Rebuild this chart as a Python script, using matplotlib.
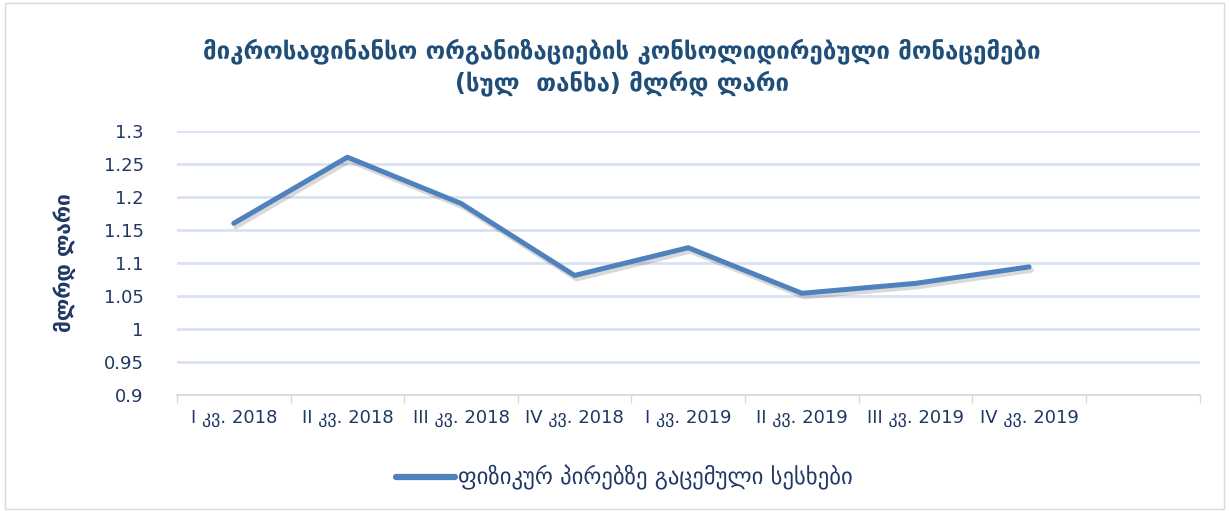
import matplotlib
matplotlib.use('Agg')
import matplotlib.pyplot as plt
import matplotlib.patheffects as pe
from matplotlib.patches import Rectangle
from matplotlib.lines import Line2D

# data
quarters = ['I კვ. 2018', 'II კვ. 2018', 'III კვ. 2018', 'IV კვ. 2018',
            'I კვ. 2019', 'II კვ. 2019', 'III კვ. 2019', 'IV კვ. 2019', '']
loans = [1.16, 1.26, 1.19, 1.081, 1.123, 1.054, 1.069, 1.094]
yticks = [0.9, 0.95, 1, 1.05, 1.1, 1.15, 1.2, 1.25, 1.3]
ytick_labels = ['0.9', '0.95', '1', '1.05', '1.1', '1.15', '1.2', '1.25', '1.3']

title = 'მიკროსაფინანსო ორგანიზაციების კონსოლიდირებული მონაცემები\n(სულ  თანხა) მლრდ ლარი'
ylabel = 'მლრდ ლარი'
series_name = 'ფიზიკურ პირებზე გაცემული სესხები'

txt = '#1f3864'
blue = '#4f81bd'
fam = ['DejaVu Sans']
narrow = ['Liberation Sans Narrow', 'DejaVu Sans']

fig = plt.figure(figsize=(12.29, 5.11), dpi=100)
fig.patches.append(Rectangle((0.004, 0.004), 0.992, 0.99, transform=fig.transFigure,
                             fill=False, edgecolor='#d9d9d9', linewidth=1))
ax = fig.add_axes([0.144, 0.227, 0.832, 0.517])

x = list(range(len(loans)))
ax.plot(x, loans, color=blue, linewidth=3.6, solid_capstyle='round',
        path_effects=[pe.SimpleLineShadow(offset=(1.5, -2.5), alpha=0.15), pe.Normal()])

ax.set_xlim(-0.5, len(quarters) - 0.5)
ax.set_ylim(0.9, 1.3)
ax.set_yticks(yticks)
ax.set_yticklabels(ytick_labels, color=txt, fontsize=13, family=fam)
ax.set_xticks(range(len(quarters)))
ax.set_xticklabels(quarters, color=txt, fontsize=13, family=narrow)
ax.set_xticks([i - 0.5 for i in range(len(quarters) + 1)], minor=True)
ax.tick_params(axis='x', which='major', length=0, pad=10)
ax.tick_params(axis='x', which='minor', length=6, color='#d9d9d9', width=1)
ax.tick_params(axis='y', length=0, pad=24)

ax.grid(axis='y', color='#d9e2f3', linewidth=2)
ax.set_axisbelow(True)
for s in ['top', 'right', 'left']:
    ax.spines[s].set_visible(False)
ax.spines['bottom'].set_color('#d9d9d9')
ax.spines['bottom'].set_linewidth(1.2)

ax.set_ylabel(ylabel, color=txt, fontsize=15, fontweight='bold', family=fam, labelpad=20)
fig.text(0.506, 0.868, title, ha='center', va='center', color='#1f4e79',
         fontsize=17.3, fontweight='bold', family=fam, linespacing=1.3)

handle = Line2D([], [], color=blue, linewidth=4.5, solid_capstyle='round')
fig.legend([handle], [series_name], loc='center', bbox_to_anchor=(0.508, 0.065),
           frameon=False, prop={'family': fam, 'size': 16.3}, handlelength=2.6,
           handletextpad=0.1, labelcolor=txt)

fig.savefig('out.png', dpi=100)
